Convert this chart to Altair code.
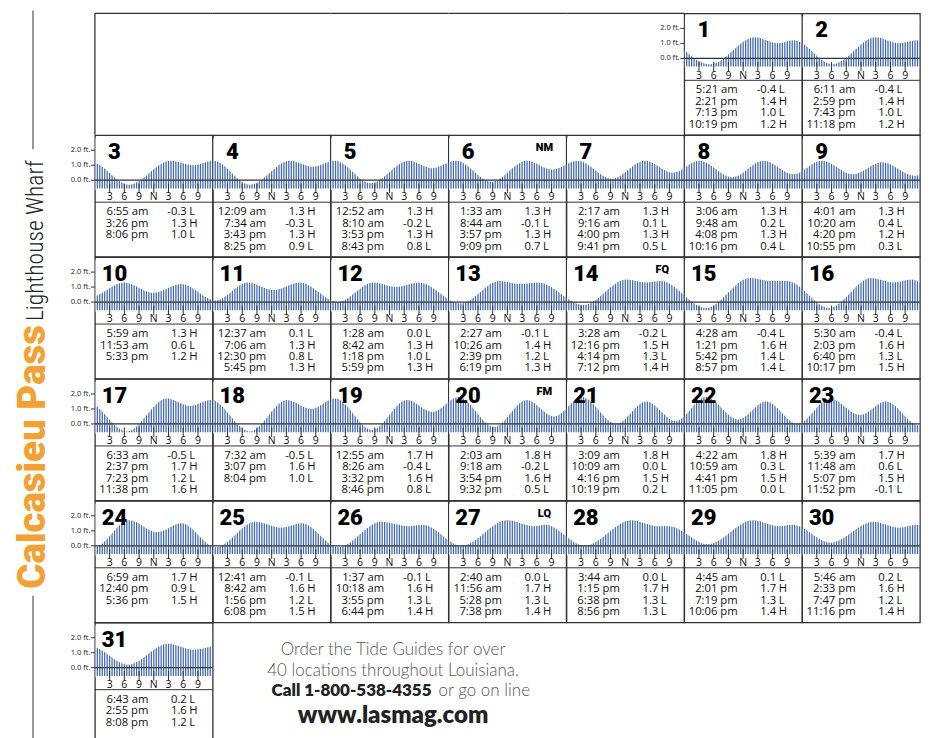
import altair as alt
import pandas as pd

# ---------------- data ----------------
station_name = "Calcasieu Pass"
station_sub = "Lighthouse Wharf"

tide_times = [
    ["5:21 am", "2:21 pm", "7:13 pm", "10:19 pm"],    # 1
    ["6:11 am", "2:59 pm", "7:43 pm", "11:18 pm"],    # 2
    ["6:55 am", "3:26 pm", "8:06 pm"],                # 3
    ["12:09 am", "7:34 am", "3:43 pm", "8:25 pm"],    # 4
    ["12:52 am", "8:10 am", "3:53 pm", "8:43 pm"],    # 5
    ["1:33 am", "8:44 am", "3:57 pm", "9:09 pm"],     # 6
    ["2:17 am", "9:16 am", "4:00 pm", "9:41 pm"],     # 7
    ["3:06 am", "9:48 am", "4:08 pm", "10:16 pm"],    # 8
    ["4:01 am", "10:20 am", "4:20 pm", "10:55 pm"],   # 9
    ["5:59 am", "11:53 am", "5:33 pm"],               # 10
    ["12:37 am", "7:06 am", "12:30 pm", "5:45 pm"],   # 11
    ["1:28 am", "8:42 am", "1:18 pm", "5:59 pm"],     # 12
    ["2:27 am", "10:26 am", "2:39 pm", "6:19 pm"],    # 13
    ["3:28 am", "12:16 pm", "4:14 pm", "7:12 pm"],    # 14
    ["4:28 am", "1:21 pm", "5:42 pm", "8:57 pm"],     # 15
    ["5:30 am", "2:03 pm", "6:40 pm", "10:17 pm"],    # 16
    ["6:33 am", "2:37 pm", "7:23 pm", "11:38 pm"],    # 17
    ["7:32 am", "3:07 pm", "8:04 pm"],                # 18
    ["12:55 am", "8:26 am", "3:32 pm", "8:46 pm"],    # 19
    ["2:03 am", "9:18 am", "3:54 pm", "9:32 pm"],     # 20
    ["3:09 am", "10:09 am", "4:16 pm", "10:19 pm"],   # 21
    ["4:22 am", "10:59 am", "4:41 pm", "11:05 pm"],   # 22
    ["5:39 am", "11:48 am", "5:07 pm", "11:52 pm"],   # 23
    ["6:59 am", "12:40 pm", "5:36 pm"],               # 24
    ["12:41 am", "8:42 am", "1:56 pm", "6:08 pm"],    # 25
    ["1:37 am", "10:18 am", "3:55 pm", "6:44 pm"],    # 26
    ["2:40 am", "11:56 am", "5:28 pm", "7:38 pm"],    # 27
    ["3:44 am", "1:15 pm", "6:38 pm", "8:56 pm"],     # 28
    ["4:45 am", "2:01 pm", "7:19 pm", "10:06 pm"],    # 29
    ["5:46 am", "2:33 pm", "7:47 pm", "11:16 pm"],    # 30
    ["6:43 am", "2:55 pm", "8:08 pm"],                # 31
]

tide_heights = [
    [-0.4, 1.4, 1.0, 1.2], [-0.4, 1.4, 1.0, 1.2], [-0.3, 1.3, 1.0],
    [1.3, -0.3, 1.3, 0.9], [1.3, -0.2, 1.3, 0.8], [1.3, -0.1, 1.3, 0.7],
    [1.3, 0.1, 1.3, 0.5], [1.3, 0.2, 1.3, 0.4], [1.3, 0.4, 1.2, 0.3],
    [1.3, 0.6, 1.2], [0.1, 1.3, 0.8, 1.3], [0.0, 1.3, 1.0, 1.3],
    [-0.1, 1.4, 1.2, 1.3], [-0.2, 1.5, 1.3, 1.4], [-0.4, 1.6, 1.4, 1.4],
    [-0.4, 1.6, 1.3, 1.5], [-0.5, 1.7, 1.2, 1.6], [-0.5, 1.6, 1.0],
    [1.7, -0.4, 1.6, 0.8], [1.8, -0.2, 1.6, 0.5], [1.8, 0.0, 1.5, 0.2],
    [1.8, 0.3, 1.5, 0.0], [1.7, 0.6, 1.5, -0.1], [1.7, 0.9, 1.5],
    [-0.1, 1.6, 1.2, 1.5], [-0.1, 1.6, 1.3, 1.4], [0.0, 1.7, 1.3, 1.4],
    [0.0, 1.7, 1.3, 1.3], [0.1, 1.7, 1.3, 1.4], [0.2, 1.6, 1.2, 1.4],
    [0.2, 1.6, 1.2],
]

tide_kinds = [
    "LHLH", "LHLH", "LHL", "HLHL", "HLHL", "HLHL", "HLHL", "HLHL", "HLHL",
    "HLH", "LHLH", "LHLH", "LHLH", "LHLH", "LHLL", "LHLH", "LHLH", "LHL",
    "HLHL", "HLHL", "HLHL", "HLHL", "HLHL", "HLH", "LHLH", "LHLH", "LHLH",
    "LHLL", "LHLH", "LHLH", "LHL",
]

# extremes just outside the month (estimated from the curve at the edges)
edge_day = [0, 32]
edge_time = ["10:00 pm", "12:30 am"]
edge_height = [1.2, 1.5]

phase_day = [6, 14, 20, 27]
phase_label = ["NM", "FQ", "FM", "LQ"]

hour_ticks = [3, 6, 9, 12, 15, 18, 21]
hour_labels = ["3", "6", "9", "N", "3", "6", "9"]
ft_ticks = [0, 1, 2]
ft_labels = ["0.0 ft.", "1.0 ft.", "2.0 ft."]
first_weekday = 5  # column of day 1

promo_lines = [
    "Order the Tide Guides for over",
    "40 locations throughout Louisiana.",
    "Call 1-800-538-4355",
    "or go on line",
    "www.lasmag.com",
]

# ---------------- layout / style ----------------
W = 117.9
H = 121.6
FT_PX = 15.0
ZERO_Y = 45.0
Y_HI = ZERO_Y / FT_PX
Y_LO = Y_HI - H / FT_PX
BASE_FT = -0.55

BLUE = "#3f67b3"
INK = "#111111"
LINE = "#333333"
ORANGE = "#f5a033"
FONT = "Open Sans"
NUMFONT = "Roboto"
NO_STROKE = alt.ViewBackground(stroke="transparent")


def to_hour(s):
    hm, ap = s.split()
    h, m = (int(v) for v in hm.split(":"))
    return h % 12 + (12 if ap == "pm" else 0) + m / 60.0


rows = []
for i, (times, hts) in enumerate(zip(tide_times, tide_heights)):
    d = i + 1
    for tm, h in zip(times, hts):
        rows.append({"day": d, "t": (d - 1) * 24 + to_hour(tm), "ft": h})
for d, tm, h in zip(edge_day, edge_time, edge_height):
    rows.append({"day": d, "t": (d - 1) * 24 + to_hour(tm), "ft": h})
curve = pd.DataFrame(rows).sort_values("t").reset_index(drop=True)

phase_map = dict(zip(phase_day, phase_label))
drows = []
for i, (times, hts, kinds) in enumerate(zip(tide_times, tide_heights, tide_kinds)):
    d = i + 1
    drows.append({
        "day": d,
        "times": "\n".join(times),
        "nums": "\n".join(f"{h:.1f}" for h in hts),
        "kinds": "\n".join(kinds),
        "phase": phase_map.get(d, ""),
    })
days = pd.DataFrame(drows)
hticks = pd.DataFrame({"hour": hour_ticks, "label": hour_labels})
fticks = pd.DataFrame({"v": ft_ticks, "label": ft_labels})
one = pd.DataFrame({"name": [station_name], "sub": [station_sub]})


def cell(d, first):
    lo, hi = (d - 1) * 24, d * 24
    xs = alt.Scale(domain=[lo, hi], nice=False, zero=False)
    ys = alt.Scale(domain=[Y_LO, Y_HI], nice=False, zero=False)

    area = alt.Chart(curve).mark_area(
        color=BLUE, interpolate="monotone", clip=True
    ).encode(
        x=alt.X("t:Q", scale=xs, axis=None),
        y=alt.Y("ft:Q", scale=ys, axis=None),
        y2=alt.datum(BASE_FT),
    )
    stripes = alt.Chart(alt.sequence(lo + 0.25, hi + 0.1, 0.5, as_="s")).mark_rule(
        color="white", strokeWidth=1.2, clip=True
    ).encode(
        x=alt.X("s:Q", scale=xs, axis=None),
        y=alt.YDatum(BASE_FT - 0.1, axis=None),
        y2=alt.datum(2.8),
    )
    base = alt.Chart(days).transform_filter(f"datum.day == {d}")
    zero = base.mark_rule(color=LINE, strokeWidth=1.3).encode(
        y=alt.YDatum(0, axis=None)
    )
    tk = alt.Chart(hticks).transform_calculate(tx=f"datum.hour + {lo}")
    ticks = tk.mark_rule(color=LINE, strokeWidth=1).encode(
        x=alt.X("tx:Q", scale=xs, axis=None), y=alt.value(48.5), y2=alt.value(58)
    )
    tlabels = tk.mark_text(font=FONT, fontSize=10.5, color=INK, baseline="middle").encode(
        x=alt.X("tx:Q", scale=xs, axis=None), y=alt.value(62.3), text="label:N"
    )
    sep = base.mark_rule(color=LINE, strokeWidth=1).encode(
        x=alt.value(0), x2=alt.value(W), y=alt.value(67)
    )
    num = base.mark_text(
        font=NUMFONT, fontWeight=900, fontSize=22, color="#000",
        align="center", baseline="alphabetic",
    ).encode(x=alt.value(19.5), y=alt.value(24), text="day:N")
    phase = base.mark_text(
        font=NUMFONT, fontWeight=900, fontSize=11, color="#000",
        align="center", baseline="middle",
    ).encode(x=alt.value(96), y=alt.value(12.7), text="phase:N")
    tcommon = dict(font=FONT, fontSize=11.3, color=INK, baseline="top",
                   lineBreak="\n", lineHeight=11.5)
    ttimes = base.mark_text(align="right", **tcommon).encode(
        x=alt.value(53.5), y=alt.value(71), text="times:N")
    tnums = base.mark_text(align="right", **tcommon).encode(
        x=alt.value(92), y=alt.value(71), text="nums:N")
    tkinds = base.mark_text(align="left", **tcommon).encode(
        x=alt.value(94.5), y=alt.value(71), text="kinds:N")

    layers = [area, stripes, zero, ticks, tlabels, sep, num, phase, ttimes, tnums, tkinds]
    if first:
        yl = alt.Chart(fticks)
        layers.append(yl.mark_rule(color=LINE, strokeWidth=1).encode(
            y=alt.Y("v:Q", scale=ys, axis=None), x=alt.value(-4), x2=alt.value(0)))
        layers.append(yl.mark_text(font=FONT, fontSize=7.5, color="#222",
                                   align="right", baseline="middle").encode(
            y=alt.Y("v:Q", scale=ys, axis=None), x=alt.value(-4.5), text="label:N"))
    return alt.layer(*layers).properties(width=W, height=H)


def blank(layers):
    return alt.layer(*layers).properties(width=W, height=H, view=NO_STROKE)


frame = alt.Chart(one).mark_rule(color=LINE, strokeWidth=1.3)
ghost = alt.Chart(one).mark_text().encode(
    x=alt.value(0), y=alt.value(0), text=alt.value(""))

# station title, drawn to the left of the grid from the first (empty) cell
tl = alt.Chart(one).mark_rule(color="#777", strokeWidth=1.5)
title_layers = [
    # white anchor marking the top-left corner of the drawing
    alt.Chart(one).mark_rule(color="white", strokeWidth=1).encode(
        x=alt.value(-85), y=alt.value(-3), y2=alt.value(0)),
    tl.encode(x=alt.value(-62), y=alt.value(-3), y2=alt.value(136)),
    tl.encode(x=alt.value(-62), y=alt.value(583), y2=alt.value(6 * H)),
    alt.Chart(one).mark_text(
        font=NUMFONT, fontWeight=900, fontSize=38.5, color=ORANGE,
        angle=270, align="left", baseline="middle",
    ).encode(x=alt.value(-62), y=alt.value(576), text="name:N"),
    alt.Chart(one).mark_text(
        font="Liberation Sans Narrow, Roboto Condensed, Roboto", fontWeight=300,
        fontSize=23.5, color="#222", angle=270, align="left", baseline="middle",
    ).encode(x=alt.value(-59), y=alt.value(308), text="sub:N"),
]

charts = []
for c in range(first_weekday):
    layers = [frame.encode(x=alt.value(0), x2=alt.value(W), y=alt.value(0))]
    if c == 0:
        layers.append(frame.encode(x=alt.value(0), y=alt.value(0), y2=alt.value(H)))
        layers += title_layers
    charts.append(blank(layers))

for d in range(1, 32):
    col = (d - 1 + first_weekday) % 7
    charts.append(cell(d, first=(col == 0 or d == 1)))

# advertisement in the empty cells after day 31
pbase = alt.Chart(one)
light = dict(font="Lato", fontWeight=300, fontSize=17, color="#555")
bold = dict(font="Lato", fontWeight=800, color="#222")
promo_layers = [
    pbase.mark_text(align="center", baseline="middle", **light).encode(
        x=alt.value(180.5), y=alt.value(27), text=alt.value(promo_lines[0])),
    pbase.mark_text(align="center", baseline="middle", **light).encode(
        x=alt.value(180.5), y=alt.value(48), text=alt.value(promo_lines[1])),
    pbase.mark_text(align="right", baseline="middle", fontSize=17, **bold).encode(
        x=alt.value(219), y=alt.value(68), text=alt.value(promo_lines[2])),
    pbase.mark_text(align="left", baseline="middle", **light).encode(
        x=alt.value(226), y=alt.value(68), text=alt.value(promo_lines[3])),
    pbase.mark_text(align="center", baseline="middle", fontSize=24, **bold).encode(
        x=alt.value(180.5), y=alt.value(93), text=alt.value(promo_lines[4])),
]
remaining = 7 - (31 + first_weekday) % 7
for k in range(remaining):
    charts.append(blank(promo_layers if k == 0 else [ghost]))

chart = alt.concat(*charts, columns=7, spacing=0, bounds="flush").properties(
    padding={"left": 0, "top": 0, "right": 0, "bottom": 0}
).configure_view(stroke=LINE, strokeWidth=1.3)

chart.save("out.html", embed_options={"renderer": "svg", "actions": False})
